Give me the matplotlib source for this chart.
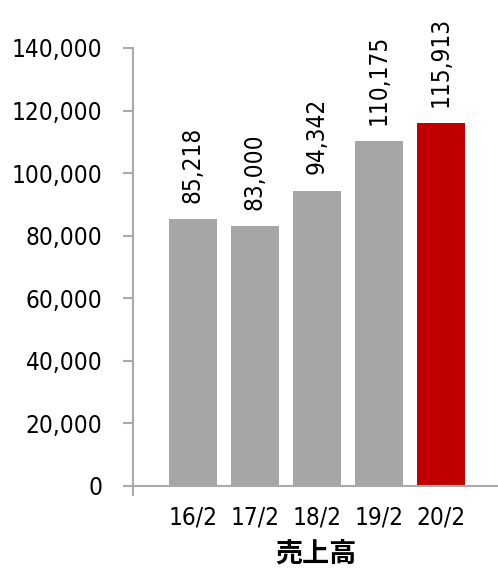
import matplotlib
matplotlib.use("Agg")
import matplotlib.pyplot as plt
from matplotlib import font_manager as fm

categories = ["16/2", "17/2", "18/2", "19/2", "20/2"]
values = [85218, 83000, 94342, 110175, 115913]
colors = ["#A6A6A6", "#A6A6A6", "#A6A6A6", "#A6A6A6", "#C00000"]
yticks = [0, 20000, 40000, 60000, 80000, 100000, 120000, 140000]
xlabel = "売上高"

cond = None
for f in fm.fontManager.ttflist:
    if "DejaVuSansCondensed.ttf" in f.fname:
        cond = f.fname
        break
if cond is None:
    for f in fm.fontManager.ttflist:
        if "Narrow" in f.name and "Bold" not in f.fname and "Italic" not in f.fname:
            cond = f.fname
            break

def fp(size):
    if cond:
        return fm.FontProperties(fname=cond, size=size)
    return fm.FontProperties(family="DejaVu Sans", size=size)

FS = 17.5

fig = plt.figure(figsize=(4.98, 5.68), dpi=100)
ax = fig.add_axes([0.267, 0.1444, 0.733, 0.7711])

x = list(range(len(categories)))
ax.bar(x, values, width=0.774, color=colors, zorder=2)
ax.set_ylim(0, 140000)
ax.set_xlim(-0.968, 4.92)
ax.set_yticks(yticks)
ax.set_yticklabels([f"{v:,}" for v in yticks], fontproperties=fp(FS))
ax.set_xticks(x)
ax.set_xticklabels(categories, fontproperties=fp(FS))
ax.tick_params(axis='x', length=0, pad=14)
ax.tick_params(axis='y', length=7, width=1.5, color="#AAAAAA", pad=15)
ax.set_xticks([-0.968], minor=True)
ax.tick_params(axis='x', which='minor', length=7, width=1.5, color="#AAAAAA")

for s in ['top', 'right']:
    ax.spines[s].set_visible(False)
for s in ['left', 'bottom']:
    ax.spines[s].set_color("#AAAAAA")
    ax.spines[s].set_linewidth(1.5)

for xi, v in zip(x, values):
    ax.annotate(f"{v:,}", (xi, v), xytext=(0, 12), textcoords='offset points',
                rotation=90, ha='center', va='bottom', fontproperties=fp(FS))

ax.set_xlabel(xlabel, fontsize=19.5, fontweight='bold',
              family=['Noto Sans CJK JP', 'DejaVu Sans'], labelpad=7)

fig.savefig("out.png", dpi=100)
